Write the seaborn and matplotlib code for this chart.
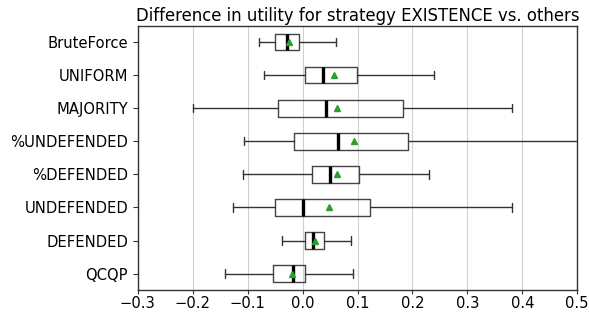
import matplotlib
matplotlib.use('Agg')
import matplotlib.pyplot as plt
import seaborn as sns

strategies = ['BruteForce', 'UNIFORM', 'MAJORITY', '%UNDEFENDED',
              '%DEFENDED', 'UNDEFENDED', 'DEFENDED', 'QCQP']
whisker_lo = [-0.080, -0.071, -0.200, -0.106, -0.108, -0.127, -0.037, -0.142]
q1 = [-0.050, 0.005, -0.045, -0.016, 0.017, -0.051, 0.004, -0.054]
median = [-0.029, 0.037, 0.043, 0.065, 0.049, 0.000, 0.019, -0.017]
mean = [-0.024, 0.057, 0.063, 0.094, 0.063, 0.048, 0.022, -0.019]
q3 = [-0.006, 0.099, 0.183, 0.191, 0.102, 0.123, 0.039, 0.005]
whisker_hi = [0.060, 0.239, 0.382, 0.560, 0.230, 0.382, 0.088, 0.092]
xticks = [-0.3, -0.2, -0.1, 0.0, 0.1, 0.2, 0.3, 0.4, 0.5]

sns.set_style('whitegrid')
plt.rcParams['font.family'] = ['DejaVu Sans']
plt.rcParams['text.color'] = 'black'
plt.rcParams['xtick.color'] = 'black'
plt.rcParams['ytick.color'] = 'black'

stats = []
for i, name in enumerate(strategies):
    stats.append(dict(label=name, whislo=whisker_lo[i], q1=q1[i], med=median[i],
                      mean=mean[i], q3=q3[i], whishi=whisker_hi[i], fliers=[]))

fig, ax = plt.subplots(figsize=(5.89, 3.12), dpi=100)
fig.subplots_adjust(left=0.234, right=0.980, top=0.918, bottom=0.07)

ax.bxp(stats, positions=range(len(strategies)), vert=False, widths=0.5,
       showmeans=True, showfliers=False,
       boxprops=dict(color='#444444', linewidth=1.0),
       whiskerprops=dict(color='#333333', linewidth=1.0),
       capprops=dict(color='#333333', linewidth=1.0),
       medianprops=dict(color='black', linewidth=2.4),
       meanprops=dict(marker='^', markerfacecolor='#2ca02c',
                      markeredgecolor='#2ca02c', markersize=5))

ax.set_ylim(len(strategies) - 0.5, -0.5)
ax.set_yticks(range(len(strategies)))
ax.set_yticklabels(strategies, fontsize=10.6)
ax.set_xlim(-0.3, 0.5)
ax.set_xticks(xticks)
ax.set_xticklabels([f'{t:.1f}'.replace('-', '\u2212') for t in xticks], fontsize=10.6)
ax.grid(axis='y', visible=False)
ax.grid(axis='x', color='#d0d0d0', linewidth=0.8)
for s in ax.spines.values():
    s.set_color('#333333')
    s.set_linewidth(1.0)
ax.tick_params(axis='y', length=3.5, color='#333333', width=0.8, left=True, pad=3.5)
ax.tick_params(axis='x', length=3.0, color='#333333', width=0.8, bottom=True, pad=1.5)
ax.set_title('Difference in utility for strategy EXISTENCE vs. others', fontsize=11.9, pad=3)

fig.savefig('out.png', dpi=100)
